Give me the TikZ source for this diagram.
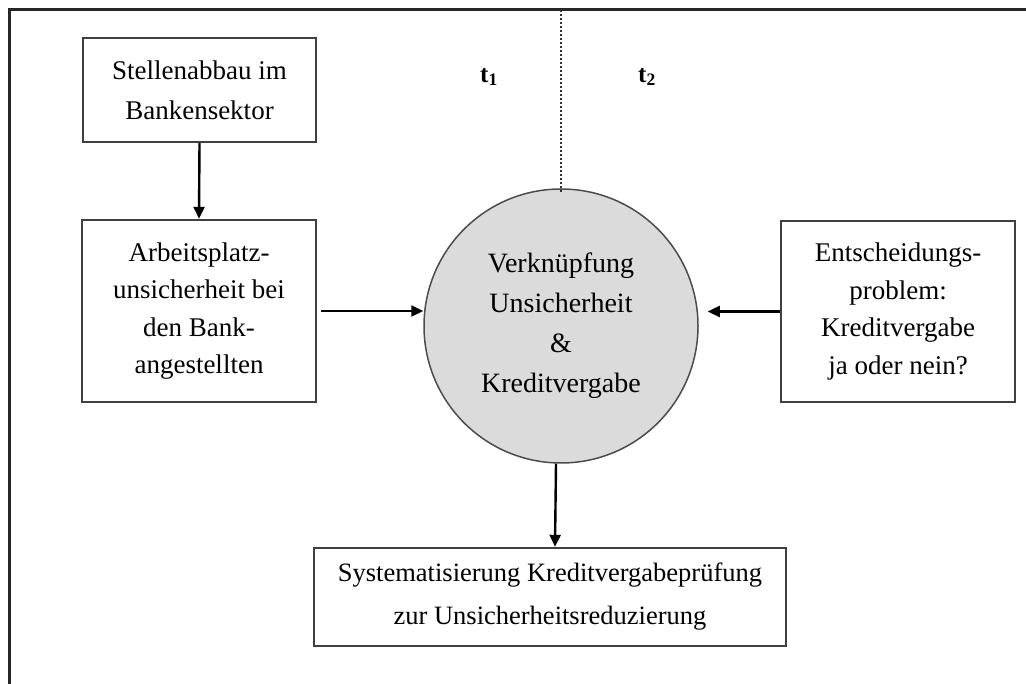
\documentclass[tikz,border=0pt]{standalone}
\usepackage{fontspec}
\setmainfont{Liberation Serif}
\usetikzlibrary{arrows.meta,calc}
\begin{document}
\begin{tikzpicture}[x=1pt,y=-1pt,
  box/.style={draw=black!75,line width=2.4pt,fill=white,align=center,inner sep=0pt,
    font=\fontsize{27}{37.5}\selectfont},
  arr/.style={line width=2.4pt,-{Triangle[length=12pt,width=11pt]}},
  lbl/.style={font=\fontsize{25}{28}\selectfont\bfseries}]
\useasboundingbox (0,0) rectangle (1026,684);
\fill[white] (0,0) rectangle (1026,684);
\coordinate (fbl) at (9.5,684);
\coordinate (ftl) at (9.5,9.5);
\coordinate (ftr) at (1026,9.5);
\draw[line width=2.6pt,black!85] (fbl) -- (ftl) -- (ftr);

\node[box,minimum width=233pt,minimum height=104pt,font=\fontsize{27}{40}\selectfont] (b1) at (199.5,90) {Stellenabbau im\\Bankensektor};
\node[box,minimum width=234pt,minimum height=182pt] (b2) at (199,311) {Arbeitsplatz-\\unsicherheit bei\\den Bank-\\angestellten};
\node[box,minimum width=234pt,minimum height=181pt] (b3) at (898,311.5) {Entscheidungs-\\problem:\\Kreditvergabe\\ja oder nein?};
\node[box,minimum width=472pt,minimum height=98pt,font=\fontsize{26.5}{43}\selectfont] (b4) at (550,597) {Systematisierung Kreditvergabeprüfung\\zur Unsicherheitsreduzierung};
\node[circle,draw=black!70,line width=1.5pt,fill=black!14,minimum size=274pt,inner sep=0pt,align=center,
  font=\fontsize{28}{40}\selectfont] (c) at (561,326) {Verknüpfung\\Unsicherheit\\\&\\Kreditvergabe};

\coordinate (dtop) at (561,10);
\draw[dotted,line width=2pt,black!80] (dtop) -- ($(c.north)+(0,4)$);

\node[lbl] (t1) at (489,77) {t\textsubscript{1}};
\node[lbl] (t2) at (647,77) {t\textsubscript{2}};

\draw[arr] (b1.south) -- (b2.north);
\draw[arr,shorten <=4pt] (b2.east) -- (b2.east -| c.west);
\draw[arr,shorten >=9pt] (b3.west) -- (b3.west -| c.east);
\draw[arr] ($(c.south)+(-5,0)$) -- ($(b4.north)+(5,0)$);
\end{tikzpicture}
\end{document}
